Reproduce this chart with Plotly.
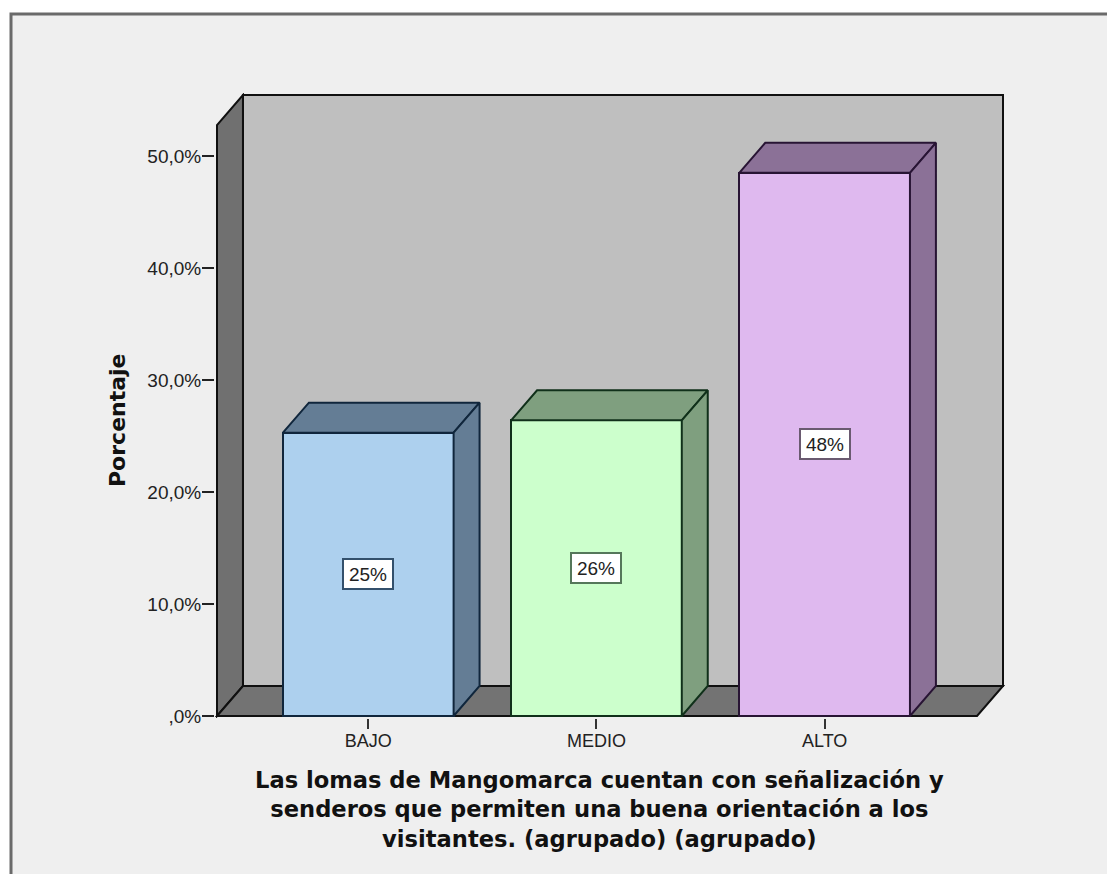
import plotly.graph_objects as go

categories = ["BAJO", "MEDIO", "ALTO"]
values = [25.3, 26.4, 48.5]
labels = ["25%", "26%", "48%"]
y_ticks = [0, 10, 20, 30, 40, 50]
y_tick_labels = [",0%", "10,0%", "20,0%", "30,0%", "40,0%", "50,0%"]
x_title = "Las lomas de Mangomarca cuentan con señalización y<br>senderos que permiten una buena orientación a los<br>visitantes. (agrupado) (agrupado)"
y_title = "Porcentaje"

front_colors = ["#add0ee", "#ccffcc", "#dfb9ef"]
side_colors = ["#647d95", "#7f9f7f", "#8b7197"]
edge_colors = ["#10263c", "#10301a", "#281434"]
box_colors = ["#33506c", "#55775a", "#6a5a70"]

W, H = 1107, 874
PX_CAT = 228.5     # pixels per category
PX_PCT = 11.2      # pixels per percent
BAR_W = 0.748
DX = 26 / PX_CAT   # depth of the 3D box, x units
DY = 30 / PX_PCT   # depth of the 3D box, y units
X_LEFT = -0.663
X_RIGHT = 2.668
Y_TOP = 52.77
PAD = 2            # pixels kept around the box so its edges are not clipped

x_range = [X_LEFT - PAD / PX_CAT, X_RIGHT + DX + PAD / PX_CAT]
y_range = [-PAD / PX_PCT, Y_TOP + DY + PAD / PX_PCT]
m_l, m_r, m_t, m_b = 215, 102, 93, 156
plot_w, plot_h = W - m_l - m_r, H - m_t - m_b


def poly(points):
    return "M " + " L ".join(f"{x},{y}" for x, y in points) + " Z"


def px_x(p):
    return (p - m_l) / plot_w


def px_y(p):
    return (H - m_b - p) / plot_h


fig = go.Figure()

fig.add_trace(go.Bar(
    x=list(range(len(categories))), y=values, width=BAR_W,
    marker=dict(color=front_colors, line=dict(color=edge_colors, width=2)),
    hoverinfo="skip", showlegend=False,
))

for i, v in enumerate(values):
    x0, x1 = i - BAR_W / 2, i + BAR_W / 2
    top = [(x0, v), (x1, v), (x1 + DX, v + DY), (x0 + DX, v + DY), (x0, v)]
    side = [(x1, 0), (x1 + DX, DY), (x1 + DX, v + DY), (x1, v), (x1, 0)]
    for pts in (top, side):
        fig.add_trace(go.Scatter(
            x=[p[0] for p in pts], y=[p[1] for p in pts], mode="lines",
            fill="toself", fillcolor=side_colors[i],
            line=dict(color=edge_colors[i], width=2),
            hoverinfo="skip", showlegend=False,
        ))

wall_line = dict(color="#101010", width=2)
shapes = [
    # page frame
    dict(type="rect", xref="paper", yref="paper", layer="below",
         x0=px_x(11), x1=px_x(W + 10), y0=px_y(H + 10), y1=px_y(14),
         fillcolor="#efefef", line=dict(color="#6a6a6a", width=3)),
    # back wall
    dict(type="path", layer="below", fillcolor="#bfbfbf", line=wall_line,
         path=poly([(X_LEFT + DX, DY), (X_RIGHT + DX, DY), (X_RIGHT + DX, Y_TOP + DY), (X_LEFT + DX, Y_TOP + DY)])),
    # left wall
    dict(type="path", layer="below", fillcolor="#707070", line=wall_line,
         path=poly([(X_LEFT, 0), (X_LEFT + DX, DY), (X_LEFT + DX, Y_TOP + DY), (X_LEFT, Y_TOP)])),
    # floor
    dict(type="path", layer="below", fillcolor="#737373", line=wall_line,
         path=poly([(X_LEFT, 0), (X_RIGHT, 0), (X_RIGHT + DX, DY), (X_LEFT + DX, DY)])),
]

annotations = [
    dict(x=i, y=v / 2, text=labels[i], showarrow=False, xref="x", yref="y",
         font=dict(family="Liberation Sans", size=19, color="#222222"),
         bgcolor="#ffffff", bordercolor=box_colors[i], borderwidth=2,
         width=46, height=26, borderpad=1)
    for i, v in enumerate(values)
]
annotations.append(dict(
    x=px_x(599.5), y=px_y(809), xref="paper", yref="paper", xanchor="center", yanchor="middle",
    text=x_title, showarrow=False, align="center",
    font=dict(family="DejaVu Sans", size=22.6, color="#111111", weight="bold"),
))
annotations.append(dict(
    x=px_x(117), y=px_y(420), xref="paper", yref="paper", xanchor="center", yanchor="middle",
    text=y_title, showarrow=False, textangle=-90,
    font=dict(family="DejaVu Sans", size=22, color="#111111", weight="bold"),
))

fig.update_layout(
    width=W, height=H, autosize=False,
    margin=dict(l=m_l, r=m_r, t=m_t, b=m_b, pad=0),
    paper_bgcolor="#ffffff", plot_bgcolor="rgba(0,0,0,0)",
    showlegend=False, bargap=0,
    shapes=shapes, annotations=annotations,
    xaxis=dict(range=x_range, tickmode="array", tickvals=list(range(len(categories))),
               ticktext=categories, ticks="outside", ticklen=10, tickwidth=2, tickcolor="#333333",
               showgrid=False, zeroline=False, showline=False, ticklabelstandoff=-4,
               tickfont=dict(family="Liberation Sans", size=18, color="#222222")),
    yaxis=dict(range=y_range, tickmode="array", tickvals=y_ticks, ticktext=y_tick_labels,
               ticks="outside", ticklen=12, tickwidth=2, tickcolor="#222222",
               showgrid=False, zeroline=False, showline=False, ticklabelstandoff=-3,
               tickfont=dict(family="Liberation Sans", size=19, color="#222222")),
)

fig.write_html("out.html", config={"displayModeBar": False},
               post_script="document.body.style.margin='0';")
